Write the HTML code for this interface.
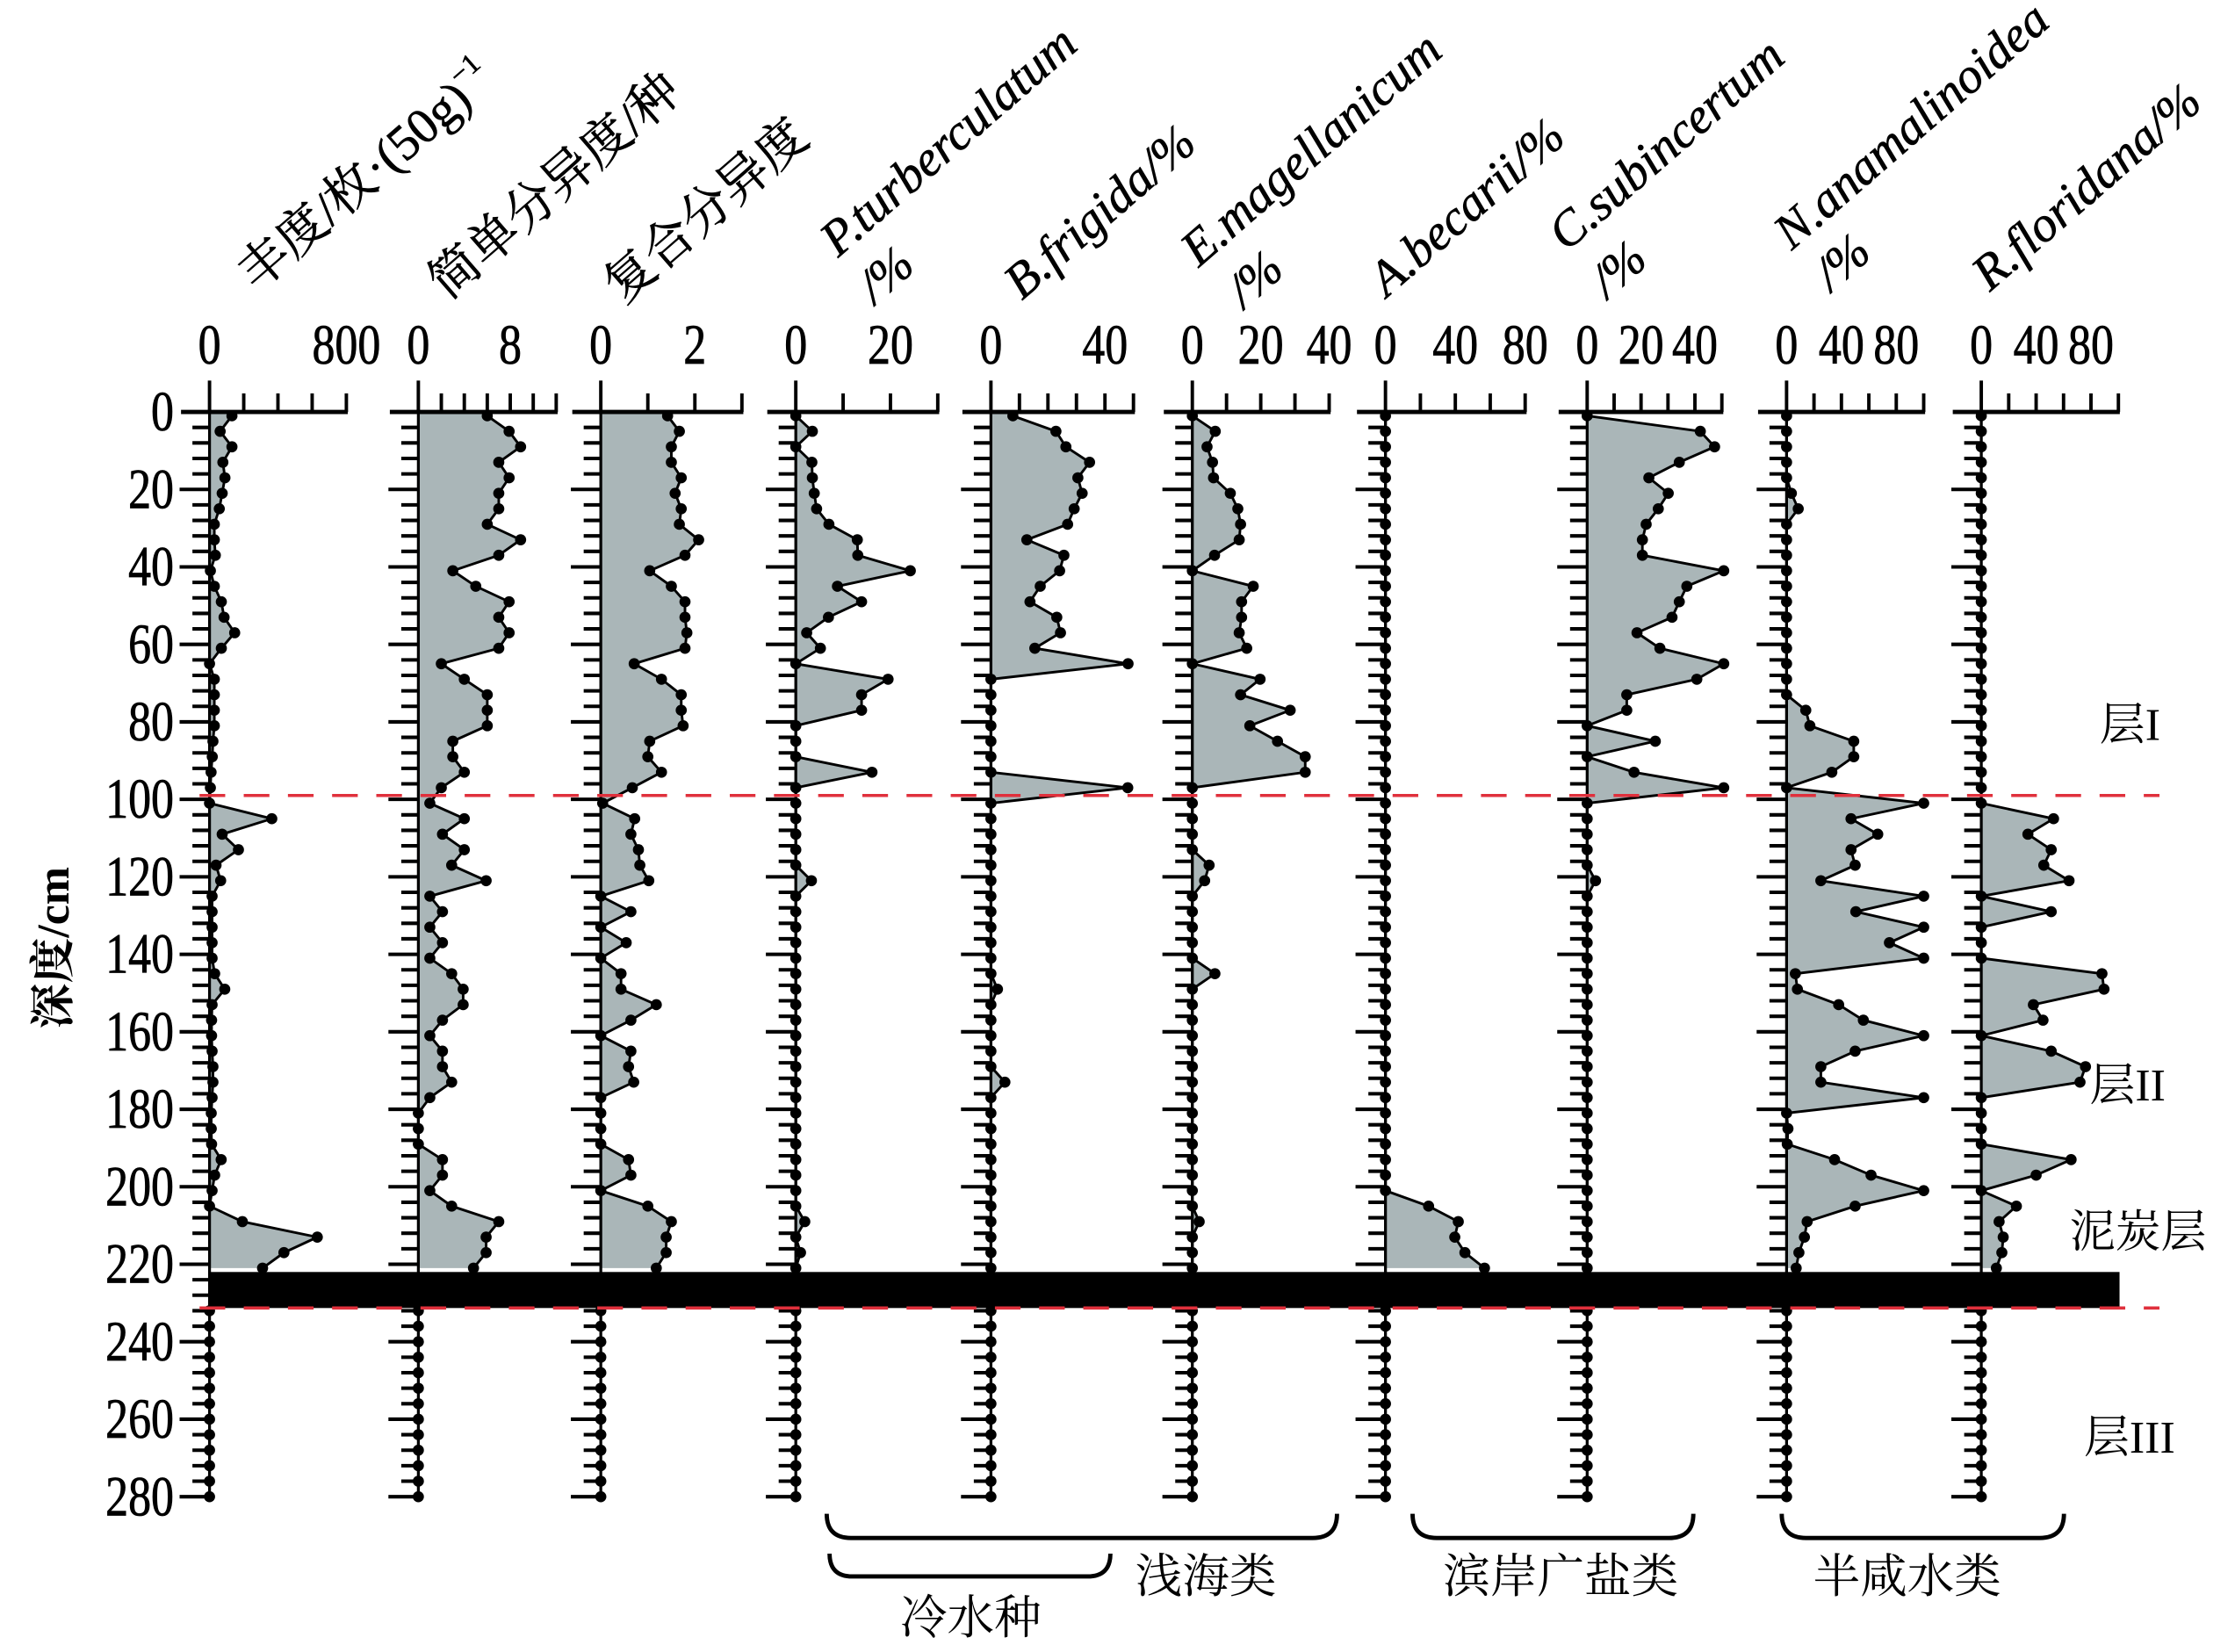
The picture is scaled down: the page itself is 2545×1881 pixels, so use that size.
<!DOCTYPE html>
<html><head><meta charset="utf-8">
<style>
html,body{margin:0;padding:0;background:#fff;}
svg{display:block;}
text{font-family:"Liberation Serif","Noto Serif CJK SC","Noto Sans CJK SC",serif;fill:#000;}
</style></head>
<body>
<svg id="chart" xmlns="http://www.w3.org/2000/svg" width="2545" height="1881" viewBox="0 0 1568 1159" preserveAspectRatio="none">
<rect x="0" y="0" width="1568" height="1159" fill="#fff"/>
<g id="headers" font-size="35" stroke="#000" stroke-width="0.4">
  <text transform="translate(180,205) rotate(-41)">丰度/枚·(50g)<tspan font-size="20" dy="-16">−1</tspan></text>
  <text transform="translate(314,211) rotate(-41)">简单分异度/种</text>
  <text transform="translate(437,214) rotate(-41)">复合分异度</text>
  <text font-style="italic" transform="translate(588,181) rotate(-41)">P.turberculatum</text>
  <text font-style="italic" transform="translate(614,214) rotate(-41)">/%</text>
  <text font-style="italic" transform="translate(717,211) rotate(-41)">B.frigida/%</text>
  <text font-style="italic" transform="translate(841,188) rotate(-41)">E.magellanicum</text>
  <text font-style="italic" transform="translate(873,217) rotate(-41)">/%</text>
  <text font-style="italic" transform="translate(973,209) rotate(-41)">A.becarii/%</text>
  <text font-style="italic" transform="translate(1099,177) rotate(-41)">C.subincertum</text>
  <text font-style="italic" transform="translate(1128,210) rotate(-41)">/%</text>
  <text font-style="italic" transform="translate(1257,176) rotate(-41)">N.anamalinoidea</text>
  <text font-style="italic" transform="translate(1285,205) rotate(-41)">/%</text>
  <text font-style="italic" transform="translate(1396,205) rotate(-41)">R.floridana/%</text>
</g>
<text font-size="32" font-weight="bold" text-anchor="middle" transform="translate(48,665) rotate(-90)">深度/cm</text>
<g id="plot"></g>
<g font-size="32">
  <text x="1473" y="519">层I</text>
  <text x="1466" y="772">层II</text>
  <text x="1452" y="875">泥炭层</text>
  <text x="1462" y="1019">层III</text>
</g>
<g fill="none" stroke="#000" stroke-width="3">
  <path d="M580,1062 Q580,1079 597,1079 L921,1079 Q938,1079 938,1062"/>
  <path d="M582,1090 Q582,1106 598,1106 L763,1106 Q779,1106 779,1090"/>
  <path d="M991,1062 Q991,1079 1008,1079 L1171,1079 Q1188,1079 1188,1062"/>
  <path d="M1250,1062 Q1250,1079 1267,1079 L1431,1079 Q1448,1079 1448,1062"/>
</g>
<g font-size="33" text-anchor="middle">
  <text x="846" y="1117">浅海类</text>
  <text x="681" y="1146">冷水种</text>
  <text x="1095" y="1117">滨岸广盐类</text>
  <text x="1338" y="1117">半咸水类</text>
</g>
</svg>
<script>
// ---- data ----
const depths = [1,5,9,13,17,21,25,29,33,37,41,45,49,53,57,61,65,69,73,77,81,85,89,93,97,101,105,109,113,117,121,125,129,133,137,141,145,149,153,157,161,165,169,173,177,181,185,189,193,197,201,205,209,213,217,221];
const lowerDepths = [232,236,240,244,248,252,256,260,264,268,272,276,280];
const depthTickLabels = [0,20,40,60,80,100,120,140,160,180,200,220,240,260,280];
const abundance = [131,62,131,78,90,74,57,28,28,34,5,28,69,85,147,69,0,28,28,28,28,20,16,9,5,0,364,74,169,38,65,15,15,15,15,15,30,89,15,12,12,15,20,20,15,10,10,12,68,30,15,0,192,630,435,310];
const simpleDiversity = [6.0,7.9,8.9,7.0,7.9,7.0,7.0,6.0,8.9,7.0,3.0,5.0,7.9,7.0,7.9,7.0,2.0,4.0,6.0,6.0,6.0,3.0,3.0,4.0,2.0,1.0,4.0,2.1,4.0,2.9,5.9,1.0,2.1,1.0,2.1,1.0,2.9,3.9,3.9,2.1,1.0,2.1,2.1,2.9,1.0,0,0,0,2.1,2.1,1.0,2.9,7.0,5.9,5.9,4.8];
const compoundDiversity = [1.42,1.67,1.5,1.5,1.71,1.58,1.71,1.67,2.08,1.79,1.04,1.5,1.79,1.79,1.83,1.79,0.71,1.29,1.71,1.71,1.75,1.04,1.0,1.29,0.67,0.04,0.72,0.64,0.8,0.83,1.02,0,0.64,0,0.54,0,0.43,0.43,1.18,0.64,0,0.64,0.59,0.7,0,0,0,0,0.59,0.64,0,1.0,1.5,1.39,1.39,1.18];
const pTurberculatum = [0,3.5,0,3.4,3.5,3.9,4.4,7.0,13.0,13.1,24.2,8.8,13.9,6.9,2.3,5.2,0,19.5,13.9,13.9,0,0,0,16.1,0,0,0,0,0,0,3.3,0,0,0,0,0,0,0,0,0,0,0,0,0,0,0,0,0,0,0,0,0,1.9,0,1.0,0];
const bFrigida = [7.7,22.8,26.3,34.6,30.5,32,29.2,26.9,12.6,25.6,24.1,17.3,13.7,23.1,24.4,15.4,48.1,0,0,0,0,0,0,0,48,0,0,0,0,0,0,0,0,0,0,0,0,2.3,0,0,0,0,0,4.9,0,0,0,0,0,0,0,0,0,0,0,0];
const eMagellanicum = [0,6.7,4.3,5.9,6.2,11.1,13.3,14.1,13.7,6.5,0,17.8,14.4,14.4,13.7,15.9,0,19.8,14.1,28.6,16.8,24.9,33,33,0,0,0,0,0,4.9,3.6,0,0,0,0,0,6.6,0,0,0,0,0,0,0,0,0,0,0,0,0,0,0,2,0,0,0];
const aBecarii = [0,0,0,0,0,0,0,0,0,0,0,0,0,0,0,0,0,0,0,0,0,0,0,0,0,0,0,0,0,0,0,0,0,0,0,0,0,0,0,0,0,0,0,0,0,0,0,0,0,0,0,24.7,41.7,39.7,45.5,56.7];
const cSubincertum = [0,42,47.3,34.2,22.9,30.1,26.4,21.9,20.5,20.5,50.7,37,34.2,31.5,18.5,27,50.7,40.7,14.7,14.7,0,25.3,0,17.4,50.7,0,0,0,0,0,3.1,0,0,0,0,0,0,0,0,0,0,0,0,0,0,0,0,0,0,0,0,0,0,0,0,0];
const nAnamalinoidea = [0,0,0,0,0,3.5,8.5,0,0,0,0,0,0,0,0,0,0,0,0,14,17,49,49,33,0,100,47,66.5,47,50,25,100,50.5,100,75,100,6.4,7.9,38,56,100,50,25,25,100,0,1,0.5,35,61.6,100,50,15,13,9,7];
const rFloridana = [0,0,0,0,0,0,0,0,0,0,0,0,0,0,0,0,0,0,0,0,0,0,0,0,0,0,52.7,34,51,45.6,64,0,51,0,0,0,88,89.5,38,45,0,51,76,72,0,0,0,0,65.5,40,0,25.6,13,16,15,11];
const topTickLabels = [[0,800],[0,8],[0,2],[0,20],[0,40],[0,20,40],[0,40,80],[0,20,40],[0,40,80],[0,40,80]];
const seriesList = [abundance,simpleDiversity,compoundDiversity,pTurberculatum,bFrigida,eMagellanicum,aBecarii,cSubincertum,nAnamalinoidea,rFloridana];
const seriesNames = ['abundance','simple-diversity','compound-diversity','p-turberculatum','b-frigida','e-magellanicum','a-becarii','c-subincertum','n-anamalinoidea','r-floridana'];

// ---- layout ----
const layout = [
 {x:147,ppu:0.12,step:200,max:800},
 {x:293.5,ppu:8.06,step:2,max:12},
 {x:421.5,ppu:33,step:1,max:3},
 {x:558.3,ppu:3.32,step:10,max:30},
 {x:695.2,ppu:2.0,step:10,max:50},
 {x:836.5,ppu:2.4,step:10,max:40},
 {x:972,ppu:1.225,step:20,max:80},
 {x:1113.5,ppu:1.89,step:10,max:50},
 {x:1253.4,ppu:0.962,step:20,max:100},
 {x:1390,ppu:0.962,step:20,max:100}
];
const Y0 = 289, PXCM = 2.718;
const yScale = d => Y0 + d*PXCM;
const NS = 'http://www.w3.org/2000/svg';
const plot = document.getElementById('plot');
function mk(tag, attrs, parent){
  const e = document.createElementNS(NS, tag);
  for (const k in attrs) e.setAttribute(k, attrs[k]);
  (parent||plot).appendChild(e);
  return e;
}

depthTickLabels.forEach(v => {
  const t = mk('text', {transform:`translate(122,${yScale(v)+13}) scale(0.8,1)`, 'text-anchor':'end', 'font-size':40, stroke:'#000', 'stroke-width':0.5});
  
  
  t.textContent = v;
});

seriesList.forEach((vals, ci) => {
  const L = layout[ci];
  const xs = v => L.x + v*L.ppu;
  const g = mk('g', {});
  
  
  let pts = [[L.x, Y0], [xs(vals[0]), Y0]];
  vals.forEach((v,i) => pts.push([xs(v), yScale(depths[i])]));
  pts.push([L.x, yScale(depths[depths.length-1])]);
  const area = mk('polygon', {points: pts.map(p=>p.join(',')).join(' '), fill:'#aab6b8', stroke:'none'}, g);
  
  
  for (let d = 4; d <= 280; d += 4) {
    const major = d % 20 === 0;
    const tk = mk('line', {x1: L.x - (major?21:12), x2: L.x, y1: yScale(d), y2: yScale(d), stroke:'#000', 'stroke-width':2.5}, g);
    
    
  }
  const ax = mk('line', {x1:L.x, x2:L.x, y1:Y0, y2:yScale(280), stroke:'#000', 'stroke-width':2}, g);
  
  
  const top = mk('line', {x1:L.x-20, x2:xs(L.max)+1, y1:Y0, y2:Y0, stroke:'#000', 'stroke-width':3}, g);
  
  
  for (let v = 0; v <= L.max + 1e-9; v += L.step) {
    const tk = mk('line', {x1:xs(v), x2:xs(v), y1:Y0, y2:Y0 - (v===0?22:13), stroke:'#000', 'stroke-width':2.4}, g);
    
    
  }
  topTickLabels[ci].forEach(v => {
    const t = mk('text', {transform:`translate(${xs(v)},255) scale(0.8,1)`, 'text-anchor':'middle', 'font-size':40, stroke:'#000', 'stroke-width':0.5}, g);
    
    
    t.textContent = v;
  });
  const line = mk('polyline', {points: vals.map((v,i)=>xs(v)+','+yScale(depths[i])).join(' '), fill:'none', stroke:'#000', 'stroke-width':1.8}, g);
  
  
  vals.forEach((v,i) => {
    const c = mk('circle', {cx:xs(v), cy:yScale(depths[i]), r:3.9, fill:'#000'}, g);
    
    
  });
  lowerDepths.forEach(d => {
    const c = mk('circle', {cx:L.x, cy:yScale(d), r:3.9, fill:'#000'}, g);
    
    
  });
});

const peat = mk('rect', {x:147, y:yScale(222), width:1340, height:yScale(231.3)-yScale(222), fill:'#000'});


[99, 231.3].forEach(d => {
  const l = mk('line', {x1:140, x2:1515, y1:yScale(d), y2:yScale(d), stroke:'#e0303c', 'stroke-width':2.2, 'stroke-dasharray':'18 13'});
  
  
});
</script>
</body></html>
